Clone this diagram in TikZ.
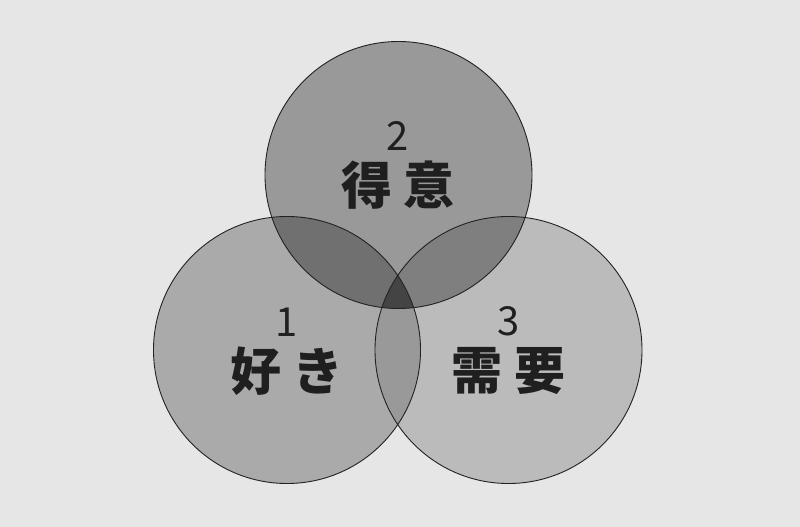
\documentclass[tikz,border=0pt]{standalone}
\usepackage{fontspec}
\newfontfamily\cjk{Noto Sans CJK JP}
\definecolor{bg}{HTML}{E6E6E6}
\definecolor{cA}{HTML}{AAAAAA}
\definecolor{cB}{HTML}{999999}
\definecolor{cC}{HTML}{BBBBBB}
\definecolor{cAB}{HTML}{707070}
\definecolor{cBC}{HTML}{7F7F7F}
\definecolor{cAC}{HTML}{999999}
\definecolor{cABC}{HTML}{444444}
\definecolor{edge}{HTML}{222222}
\tikzset{
  num/.style={font=\cjk\fontsize{40}{40}\selectfont, text=black!88, inner sep=0pt},
  word/.style={font=\cjk\bfseries\fontsize{51}{51}\selectfont, text=black!88, inner sep=0pt},
}
\begin{document}
\begin{tikzpicture}[x=1pt,y=-1pt]
\fill[bg] (0,0) rectangle (800,527);
\useasboundingbox (0,0) rectangle (800,527);
\def\r{133.5}
\coordinate (A) at (287,350);
\coordinate (B) at (398.5,175);
\coordinate (C) at (508.5,350);
\fill[cA] (A) circle (\r);
\fill[cC] (C) circle (\r);
\fill[cB] (B) circle (\r);
\begin{scope}
  \clip (A) circle (\r);
  \fill[cAB] (B) circle (\r);
  \fill[cAC] (C) circle (\r);
\end{scope}
\begin{scope}
  \clip (B) circle (\r);
  \fill[cBC] (C) circle (\r);
\end{scope}
\begin{scope}
  \clip (A) circle (\r);
  \clip (B) circle (\r);
  \fill[cABC] (C) circle (\r);
\end{scope}
\draw[edge, line width=0.9pt] (A) circle (\r);
\draw[edge, line width=0.9pt] (B) circle (\r);
\draw[edge, line width=0.9pt] (C) circle (\r);
\node[num] (n2) at (398,135.5) {2};
\node[word] (w2) at (398,185) {得\hspace{12pt}意};
\node[num] (n1) at (287,322) {1};
\node[word] (w1) at (287,371) {好\hspace{12pt}き};
\node[num] (n3) at (509,321.5) {3};
\node[word] (w3) at (508.5,371) {需\hspace{12pt}要};
\end{tikzpicture}
\end{document}
